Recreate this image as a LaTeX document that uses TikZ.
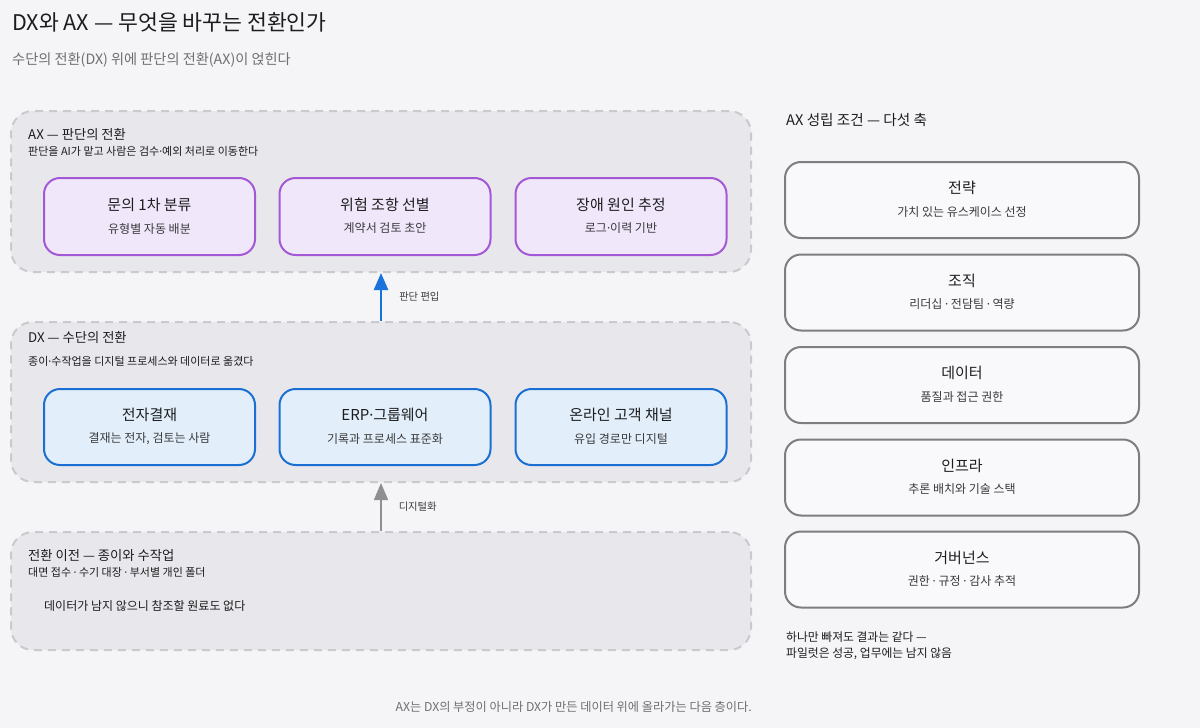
\documentclass[tikz,border=0pt]{standalone}
\usepackage{fontspec}
\setmainfont{Noto Sans CJK KR}
\newfontfamily\dotfont{Noto Sans}
\newcommand\md{{\dotfont ·}}
\usepackage{tikz}
\usetikzlibrary{arrows.meta,positioning}
\definecolor{bgc}{HTML}{F5F5F7}
\definecolor{panelc}{HTML}{E8E8EC}
\definecolor{dashc}{HTML}{C9C9CE}
\definecolor{axline}{HTML}{A458D6}
\definecolor{axfill}{HTML}{F0E7FA}
\definecolor{dxline}{HTML}{1C6FD2}
\definecolor{dxfill}{HTML}{E2EFFB}
\definecolor{condline}{HTML}{7D7D82}
\definecolor{condfill}{HTML}{F9F9FB}
\definecolor{ink}{HTML}{1D1D1F}
\definecolor{ink2}{HTML}{3A3A3C}
\definecolor{muted}{HTML}{6E6E73}
\definecolor{upblue}{HTML}{1A72DC}
\definecolor{upgray}{HTML}{8E8E93}
\tikzset{
  panel/.style={draw=dashc,fill=panelc,line width=2pt,dash pattern=on 8pt off 6pt,rounded corners=22pt,minimum width=740pt},
  axbox/.style={draw=axline,fill=axfill,line width=2pt,rounded corners=16pt,minimum width=211pt,minimum height=77pt},
  dxbox/.style={draw=dxline,fill=dxfill,line width=2pt,rounded corners=16pt,minimum width=211pt,minimum height=76pt},
  condbox/.style={draw=condline,fill=condfill,line width=2pt,rounded corners=16pt,minimum width=354pt,minimum height=76pt},
  boxttl/.style={font=\fontsize{15}{18}\selectfont,text=ink,inner sep=0pt},
  boxsub/.style={font=\fontsize{12}{14}\selectfont,text=ink2,inner sep=0pt},
  ptitle/.style={anchor=west,inner sep=0pt,font=\fontsize{13.3}{16}\selectfont,text=ink},
  psub/.style={anchor=west,inner sep=0pt,font=\fontsize{11}{13}\selectfont,text=ink},
  lbl/.style={font=\fontsize{10.3}{12}\selectfont,text=ink2,inner sep=0pt}
}

\begin{document}
\begin{tikzpicture}[x=1pt,y=-1pt,line join=round]
\path[fill=bgc] (0,0) rectangle (1200,728);
% --- 1: heading
\node[anchor=west,inner sep=0pt,font=\fontsize{21.6}{26}\selectfont,text=ink] (title) at (12,22) {DX와 AX — 무엇을 바꾸는 전환인가};
\node[anchor=west,inner sep=0pt,font=\fontsize{14.2}{17}\selectfont,text=muted] (subtitle) at (12,60) {수단의 전환(DX) 위에 판단의 전환(AX)이 얹힌다};

% --- 2: three layers, bottom to top
\node[panel,minimum height=161pt] (ax) at (381,191.5) {};
\node[panel,minimum height=160pt] (dx) at (381,402) {};
\node[panel,minimum height=118pt] (pre) at (381,591) {};

\node[ptitle] (axttl) at (28,135) {AX — 판단의 전환};
\node[psub] (axsub) at (28,151) {판단을 AI가 맡고 사람은 검수\md{}예외 처리로 이동한다};
\foreach \i/\x/\t/\s in {1/149.5/문의 1차 분류/유형별 자동 배분,
                         2/385/위험 조항 선별/계약서 검토 초안,
                         3/621/장애 원인 추정/로그\md{}이력 기반}{
  \node[axbox] (a\i) at (\x,216.5) {};
  \node[boxttl] at ([yshift=12pt]a\i.center) {\t};
  \node[boxsub] at ([yshift=-12pt]a\i.center) {\s};
}

\node[ptitle] (dxttl) at (28,338) {DX — 수단의 전환};
\node[psub] (dxsub) at (28,361) {종이\md{}수작업을 디지털 프로세스와 데이터로 옮겼다};
\foreach \i/\x/\t/\s in {1/149.5/전자결재/{결재는 전자, 검토는 사람},
                         2/385/ERP\md{}그룹웨어/기록과 프로세스 표준화,
                         3/621/온라인 고객 채널/유입 경로만 디지털}{
  \node[dxbox] (d\i) at (\x,427) {};
  \node[boxttl] at ([yshift=12pt]d\i.center) {\t};
  \node[boxsub] at ([yshift=-12pt]d\i.center) {\s};
}

\node[ptitle] (prettl) at (28,556) {전환 이전 — 종이와 수작업};
\node[psub] (presub) at (28,572) {대면 접수 \md{} 수기 대장 \md{} 부서별 개인 폴더};
\node[anchor=west,inner sep=0pt,font=\fontsize{12}{14}\selectfont,text=ink] (prebody) at (44,606) {데이터가 남지 않으니 참조할 원료도 없다};

\draw[line width=2.5pt,upblue,-{Triangle[width=14pt,length=17pt]}] (dx.north) -- (ax.south)
  node[lbl,midway,anchor=west,xshift=17pt] {판단 편입};
\draw[line width=1.5pt,upgray,-{Triangle[width=14pt,length=17pt]}] (pre.north) -- (dx.south)
  node[lbl,midway,anchor=west,xshift=17pt] {디지털화};

% --- 3: conditions column
\node[anchor=west,inner sep=0pt,font=\fontsize{14.6}{17}\selectfont,text=ink] (condhead) at (786,120) {AX 성립 조건 — 다섯 축};
\foreach \i/\y/\t/\s in {1/200/전략/가치 있는 유스케이스 선정,
                         2/292.5/조직/리더십 \md{} 전담팀 \md{} 역량,
                         3/385/데이터/품질과 접근 권한,
                         4/477.5/인프라/추론 배치와 기술 스택,
                         5/569.5/거버넌스/권한 \md{} 규정 \md{} 감사 추적}{
  \node[condbox] (c\i) at (962,\y) {};
  \node[boxttl] at ([yshift=12pt]c\i.center) {\t};
  \node[boxsub] at ([yshift=-12pt]c\i.center) {\s};
}
\node[anchor=north west,inner sep=0pt,align=left,font=\fontsize{11.8}{16}\selectfont,text=ink] (condnote) at (786,632) {하나만 빠져도 결과는 같다 —\\파일럿은 성공, 업무에는 남지 않음};

% --- 4: footer
\node[anchor=east,inner sep=0pt,font=\fontsize{12.2}{14}\selectfont,text=muted] (footer) at (752,707) {AX는 DX의 부정이 아니라 DX가 만든 데이터 위에 올라가는 다음 층이다.};
\end{tikzpicture}
\end{document}
